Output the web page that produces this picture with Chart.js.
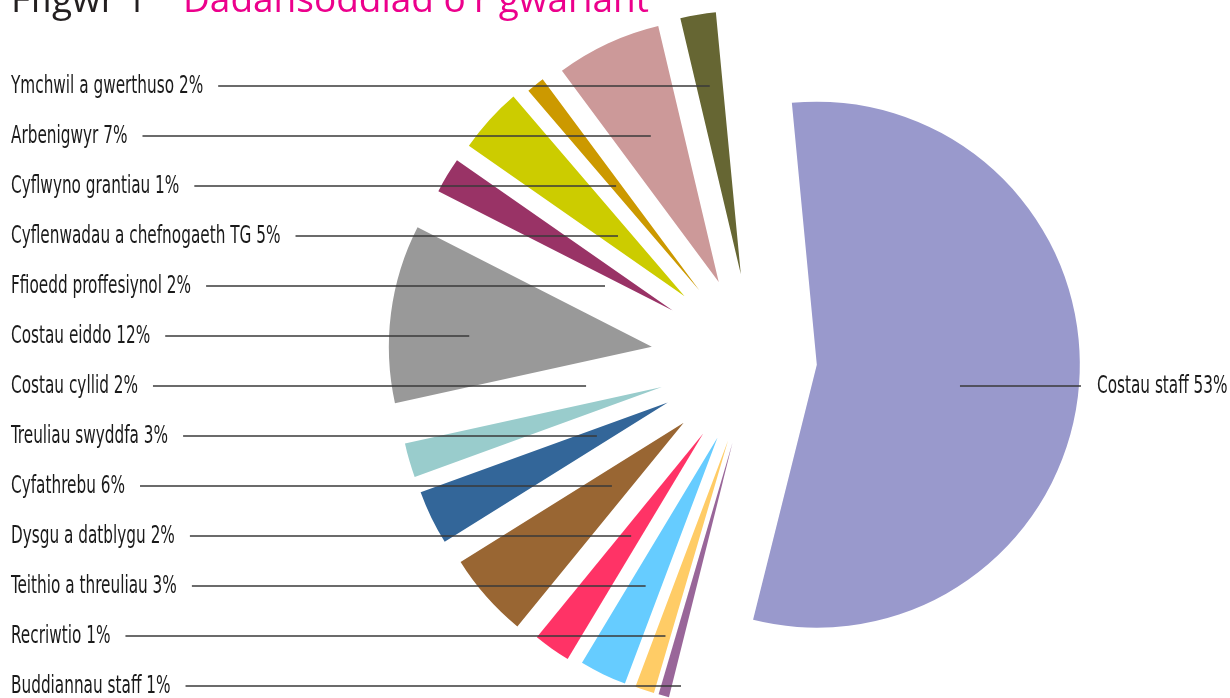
<!DOCTYPE html>
<html>
<head>
<meta charset="utf-8">
<title>Ffigwr 1 Dadansoddiad o'r gwariant</title>
<script src="https://cdn.jsdelivr.net/npm/chart.js@4.4.1/dist/chart.umd.min.js"></script>
<style>
  html, body { margin: 0; padding: 0; background: #fff; }
  #wrap { position: relative; width: 1230px; height: 698px; overflow: hidden; }
</style>
</head>
<body>
<div id="wrap"><canvas id="spendChart"></canvas></div>
<script>
// Categorïau, clocwedd o'r brig
const categories = [
    'Costau staff', 'Buddiannau staff', 'Recriwtio', 'Teithio a threuliau',
    'Dysgu a datblygu', 'Cyfathrebu', 'Treuliau swyddfa', 'Costau cyllid',
    'Costau eiddo', 'Ffioedd proffesiynol', 'Cyflenwadau a chefnogaeth TG',
    'Cyflwyno grantiau', 'Arbenigwyr', 'Ymchwil a gwerthuso'
];
// canrannau fel y maen nhw yn y labeli
const labelPercents = [53, 1, 1, 3, 2, 6, 3, 2, 12, 2, 5, 1, 7, 2];
// maint y sleisiau fel y maen nhw wedi eu lluniadu
const sliceShares = [55.4, 0.65, 1.18, 2.89, 2.28, 5.22, 3.33, 2.11, 10.94, 2.19, 4.03, 1.11, 6.47, 2.18];

const sliceColours = [
    '#9999cc', '#996699', '#ffcc66', '#66ccff', '#ff3366', '#996633', '#336699',
    '#99cccc', '#999999', '#993366', '#cccc00', '#cc9900', '#cc9999', '#666633'
];
// pa mor bell mae pob sleisen yn symud allan o'r canol (px)
const explode = [62, 85, 85, 86, 90, 95, 97, 97, 104, 96, 95, 89, 86, 87];

const PIE_RADIUS = 263;
const LABEL_FONT = "25px 'DejaVu Sans Condensed', sans-serif";
const LABEL_SQUEEZE = 0.68;
const ROW_TOP = 86, ROW_STEP = 50, LABEL_X = 11;

// symud pob sleisen ar hyd ei hongl ganol
const explodeSlices = {
    id: 'explodeSlices',
    beforeDatasetsDraw(chart) {
        const { left, right, top, bottom } = chart.chartArea;
        const cx = (left + right) / 2, cy = (top + bottom) / 2;
        chart.getDatasetMeta(0).data.forEach((arc, i) => {
            const mid = (arc.startAngle + arc.endAngle) / 2;
            arc.x = cx + Math.cos(mid) * explode[i];
            arc.y = cy + Math.sin(mid) * explode[i];
        });
    }
};

// lle mae'r rhes yn croesi llinell ganol y sleisen
function leaderEnd(arc, y) {
    const mid = (arc.startAngle + arc.endAngle) / 2;
    let t;
    if (arc.circumference > 0.5) {
        t = 0.7 * PIE_RADIUS;          // sleisen lydan: mynd yn ddwfn iddi
    } else {
        t = (y - arc.y) / Math.sin(mid);
        t = Math.min(Math.max(t, 0.3 * PIE_RADIUS), 0.75 * PIE_RADIUS);
    }
    return arc.x + Math.cos(mid) * t;
}

function drawSqueezed(ctx, text, x, y) {
    ctx.save();
    ctx.translate(x, y);
    ctx.scale(LABEL_SQUEEZE, 1);
    ctx.fillText(text, 0, 0);
    ctx.restore();
}

function hLine(ctx, x1, x2, y) {
    ctx.beginPath();
    ctx.moveTo(x1, y);
    ctx.lineTo(x2, y);
    ctx.stroke();
}

const leaderLabels = {
    id: 'leaderLabels',
    afterDatasetsDraw(chart) {
        const ctx = chart.ctx;
        const arcs = chart.getDatasetMeta(0).data;
        ctx.save();

        // teitl
        ctx.textBaseline = 'alphabetic';
        ctx.font = "500 37px 'Open Sans', 'Noto Sans', sans-serif";
        ctx.fillStyle = '#231f20';
        ctx.fillText('Ffigwr 1', 11, 12);
        ctx.fillStyle = '#ec008c';
        ctx.fillText("Dadansoddiad o'r gwariant", 183, 12);

        ctx.font = LABEL_FONT;
        ctx.fillStyle = '#1a1a1a';
        ctx.strokeStyle = '#3a3a3a';
        ctx.lineWidth = 1.3;

        // colofn chwith: pob sleisen heblaw'r gyntaf, o'r brig yn wrthglocwedd
        const leftIdx = categories.map((c, i) => i).slice(1).reverse();
        leftIdx.forEach((i, row) => {
            const y = ROW_TOP + row * ROW_STEP;
            const text = `${categories[i]} ${labelPercents[i]}%`;
            const w = ctx.measureText(text).width * LABEL_SQUEEZE;
            drawSqueezed(ctx, text, LABEL_X, y + 7);
            hLine(ctx, LABEL_X + w + 15, leaderEnd(arcs[i], y), y);
        });

        // label ar y dde i'r sleisen fawr
        const big = arcs[0];
        const c = big.getCenterPoint();
        const y = ROW_TOP + Math.round((c.y - ROW_TOP) / ROW_STEP) * ROW_STEP;
        const edge = big.x + Math.sqrt(PIE_RADIUS * PIE_RADIUS - (y - big.y) * (y - big.y));
        hLine(ctx, c.x + 12, edge + 2, y);
        drawSqueezed(ctx, `${categories[0]} ${labelPercents[0]}%`, edge + 18, y + 7);

        ctx.restore();
    }
};

function initSpendChart() {
    const ctx = document.getElementById('spendChart').getContext('2d');
    new Chart(ctx, {
        type: 'pie',
        data: {
            labels: categories,
            datasets: [{
                data: sliceShares,
                backgroundColor: sliceColours,
                borderWidth: 0
            }]
        },
        options: {
            responsive: true,
            maintainAspectRatio: false,
            animation: false,
            rotation: -5.45,
            radius: PIE_RADIUS,
            layout: { padding: { left: 280, right: 0, top: 22, bottom: 0 } },
            plugins: {
                legend: { display: false },
                tooltip: { enabled: false }
            },
            events: []
        },
        plugins: [explodeSlices, leaderLabels]
    });
}

document.addEventListener('DOMContentLoaded', initSpendChart);
</script>
</body>
</html>
